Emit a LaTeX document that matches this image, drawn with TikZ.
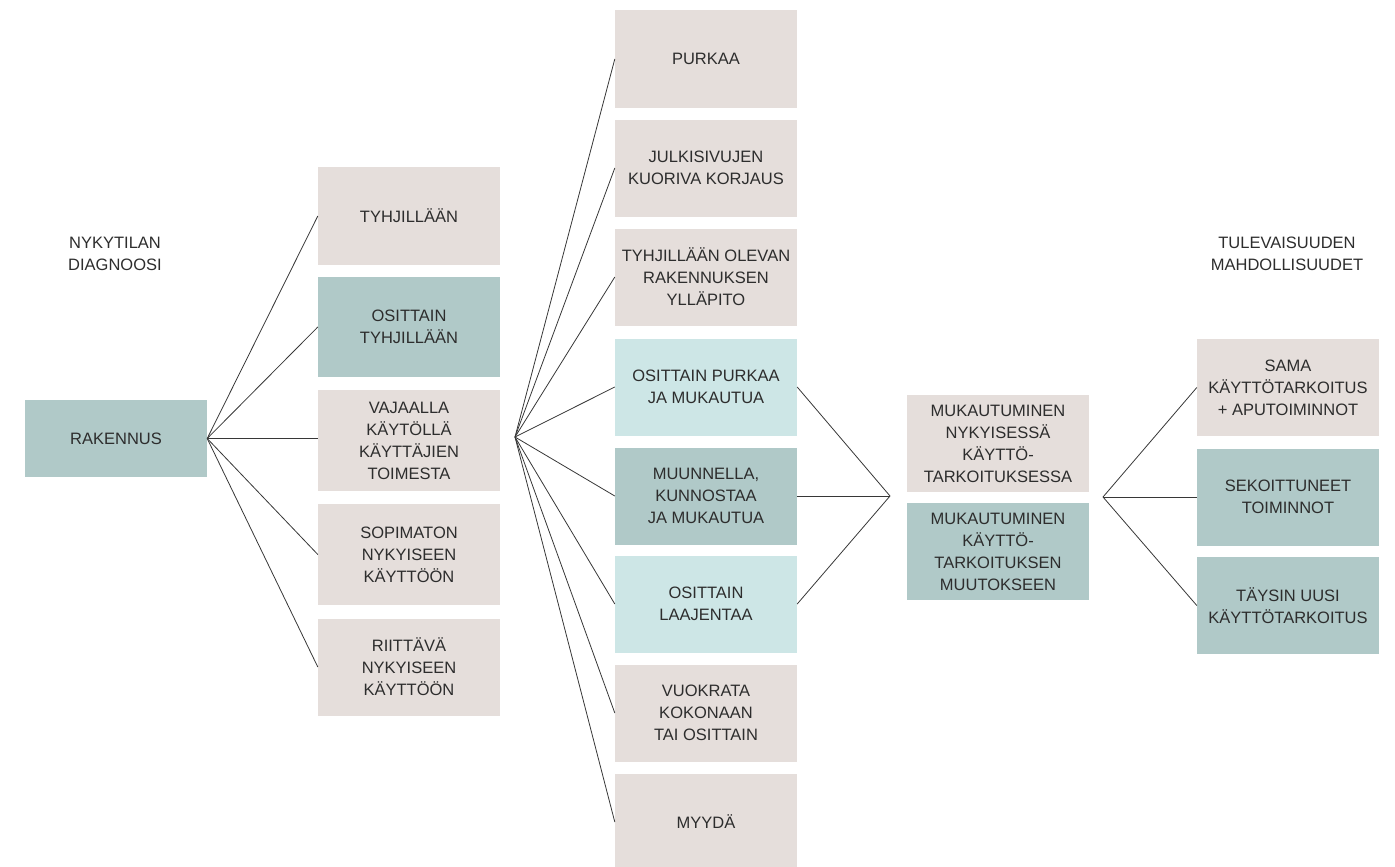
\documentclass[tikz,border=0pt]{standalone}
\usepackage{fontspec}
\setmainfont{Liberation Sans}
\definecolor{beige}{RGB}{229,222,219}
\definecolor{tealc}{RGB}{176,201,200}
\definecolor{lightt}{RGB}{205,230,230}
\definecolor{txt}{RGB}{45,45,45}
\definecolor{ln}{RGB}{55,55,55}
\tikzset{
  boxbase/.style={rectangle, inner sep=0pt, minimum width=182pt, align=center,
    text=txt, font=\fontsize{16.5}{22}\selectfont},
  beigebox/.style={boxbase, fill=beige, minimum height=97pt},
  tealbox/.style={boxbase, fill=tealc, minimum height=97pt},
  lightbox/.style={boxbase, fill=lightt, minimum height=97pt},
  hdr/.style={align=center, text=txt, font=\fontsize{16.5}{22}\selectfont},
  conn/.style={draw=ln, line width=0.8pt}
}
\begin{document}
\begin{tikzpicture}[x=1pt,y=-1pt]
\useasboundingbox (0,0) rectangle (1395,867);
% headers
\node[hdr] (h1) at (115,254) {NYKYTILAN\\DIAGNOOSI};
\node[hdr] (h2) at (1287,254) {TULEVAISUUDEN\\MAHDOLLISUUDET};
% column 1
\node[tealbox, minimum height=77pt] (rak) at (116,438.5) {RAKENNUS};
% column 2
\node[beigebox, minimum height=98pt] (c21) at (409,216) {TYHJILL\"A\"AN};
\node[tealbox, minimum height=100pt] (c22) at (409,327) {OSITTAIN\\TYHJILL\"A\"AN};
\node[beigebox, minimum height=101pt] (c23) at (409,440.5) {VAJAALLA\\K\"AYT\"OLL\"A\\K\"AYTT\"AJIEN\\TOIMESTA};
\node[beigebox, minimum height=101pt] (c24) at (409,554.5) {SOPIMATON\\NYKYISEEN\\K\"AYTT\"O\"ON};
\node[beigebox, minimum height=97pt] (c25) at (409,667) {RIITT\"AV\"A\\NYKYISEEN\\K\"AYTT\"O\"ON};
% column 3
\node[beigebox] (c31) at (706,59) {PURKAA};
\node[beigebox] (c32) at (706,168) {JULKISIVUJEN\\KUORIVA KORJAUS};
\node[beigebox] (c33) at (706,277) {TYHJILL\"A\"AN OLEVAN\\RAKENNUKSEN\\YLL\"APITO};
\node[lightbox] (c34) at (706,387) {OSITTAIN PURKAA\\JA MUKAUTUA};
\node[tealbox] (c35) at (706,496) {MUUNNELLA,\\KUNNOSTAA\\JA MUKAUTUA};
\node[lightbox] (c36) at (706,604) {OSITTAIN\\LAAJENTAA};
\node[beigebox] (c37) at (706,713) {VUOKRATA\\KOKONAAN\\TAI OSITTAIN};
\node[beigebox] (c38) at (706,822) {MYYD\"A};
% column 4
\node[beigebox] (c41) at (998,443.5) {MUKAUTUMINEN\\NYKYISESS\"A\\K\"AYTT\"O-\\TARKOITUKSESSA};
\node[tealbox] (c42) at (998,551.5) {MUKAUTUMINEN\\K\"AYTT\"O-\\TARKOITUKSEN\\MUUTOKSEEN};
% column 5
\node[beigebox] (c51) at (1288,387.5) {SAMA\\K\"AYTT\"OTARKOITUS\\+ APUTOIMINNOT};
\node[tealbox] (c52) at (1288,497) {SEKOITTUNEET\\TOIMINNOT};
\node[tealbox] (c53) at (1288,605.5) {T\"AYSIN UUSI\\K\"AYTT\"OTARKOITUS};
% fan points
\coordinate (f1) at (515,437);
\coordinate (f2) at (890,496);
\coordinate (f3) at (1103,497);
% connectors
\foreach \n in {c21,c22,c24,c25} \draw[conn] (rak.east) -- (\n.west);
\draw[conn] (rak.east) -- (rak.east -| c23.west);
\foreach \n in {c31,c32,c33,c34,c35,c36,c37,c38} \draw[conn] (f1) -- (\n.west);
\foreach \n in {c34,c35,c36} \draw[conn] (\n.east) -- (f2);
\foreach \n in {c51,c52,c53} \draw[conn] (f3) -- (\n.west);
\end{tikzpicture}
\end{document}
